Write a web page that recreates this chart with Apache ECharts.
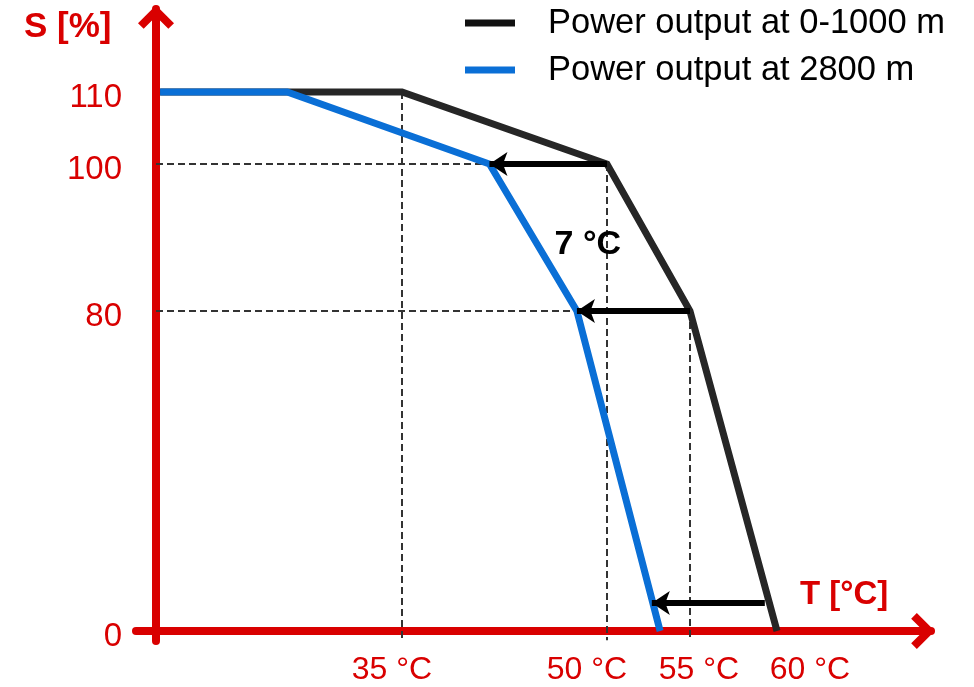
<!DOCTYPE html>
<html>
<head>
<meta charset="utf-8">
<script src="https://cdn.jsdelivr.net/npm/echarts@6.0.0/dist/echarts.min.js"></script>
<style>html,body{margin:0;padding:0;background:#fff}#c{width:974px;height:687px}</style>
</head>
<body>
<div id="c"></div>
<script>
// ---------- data ----------
const seriesNames = ['Power output at 0-1000 m', 'Power output at 2800 m'];
const blackTemp  = [17.3, 35, 50, 55, 60];       // °C
const blackPower = [110, 110, 100, 80, 0];       // %
const blueTemp   = [17.3, 26.6, 41.4, 47.8, 53.2];
const bluePower  = [110, 110, 100, 80, 0];
const tempTicks  = [35, 50, 55, 60];
const powerTicks = [0, 80, 100, 110];
const shiftFromTemp = [50, 55, 59.3];
const shiftToTemp   = [41.4, 47.8, 52.7];
const shiftPower    = [100, 80, 7];
const shiftText     = '7 °C';
const shiftTextAt   = [48.6, 89];
const originTemp    = 17.0;   // where the S axis crosses the T axis
const guideBottom   = -2.3;   // dashed guides reach slightly below S = 0

// ---------- schematic (non-uniform) axis scales ----------
const T_SCALE_KNOTS = [35, 50, 55, 60];
const T_SCALE_UNITS = [246, 451, 534, 621];
const S_SCALE_KNOTS = [0, 80, 100, 110];
const S_SCALE_UNITS = [0, 320, 467, 539];
function piecewise(knots, units, v) {
  let i = 0;
  if (v >= knots[knots.length - 1]) i = knots.length - 2;
  else if (v > knots[0]) { while (v > knots[i + 1]) i++; }
  const f = (v - knots[i]) / (knots[i + 1] - knots[i]);
  return units[i] + f * (units[i + 1] - units[i]);
}
const warpT = t => piecewise(T_SCALE_KNOTS, T_SCALE_UNITS, t);
const warpS = s => piecewise(S_SCALE_KNOTS, S_SCALE_UNITS, s);
const pts = (ts, ss) => ts.map((t, i) => [warpT(t), warpS(ss[i])]);

// ---------- styles ----------
const RED = '#d90000';
const FONT = '"Liberation Sans", Arial, sans-serif';
const BLACK_LINE = '#262626';
const BLUE_LINE = '#0a6fd6';
const chevron = 'path://M18,0L36,18L30.34,23.66L18,11.31L5.66,23.66L0,18Z';
const xLabelNudge = [-10, -20, 9, 33];   // horizontal offsets of the °C labels (style)

const axisLineCommon = {
  show: true, onZero: true,
  lineStyle: { color: RED, width: 8 },
  symbol: ['none', chevron],
  symbolSize: [36, 24],
  symbolOffset: [0, -8]
};

// guides: from the black-line corners
const guideData = [];
for (let i = 1; i < blackTemp.length - 1; i++) {
  guideData.push([{ coord: [warpT(blackTemp[i]), warpS(blackPower[i])] },
                  { coord: [warpT(blackTemp[i]), warpS(guideBottom)] }]);
  if (blackPower[i] < blackPower[0]) {
    guideData.push([{ coord: [warpT(originTemp), warpS(blackPower[i])] },
                    { coord: [warpT(blackTemp[i]), warpS(blackPower[i])] }]);
  }
}
const arrowData = shiftFromTemp.map((t, i) => [
  { coord: [warpT(t), warpS(shiftPower[i])] },
  { coord: [warpT(shiftToTemp[i]), warpS(shiftPower[i])] }
]);

const findTickIndex = (ticks, warp, v) => ticks.findIndex(x => Math.abs(warp(x) - v) < 0.5);

const xRich = {};
tempTicks.forEach((t, i) => {
  const n = xLabelNudge[i];
  xRich['t' + i] = {
    color: RED, fontSize: 32, fontFamily: FONT,
    padding: n < 0 ? [0, -2 * n, 0, 0] : [0, 0, 0, 2 * n]
  };
});

const chart = echarts.init(document.getElementById('c'), null, { renderer: 'canvas' });
chart.setOption({
  animation: false,
  textStyle: { fontFamily: FONT },
  title: [
    { text: 'S [%]', left: 24, top: 10, padding: 0,
      textStyle: { color: RED, fontSize: 35, fontWeight: 'bold', fontFamily: FONT } },
    { text: 'T [°C]', left: 800, top: 578, padding: 0,
      textStyle: { color: RED, fontSize: 33, fontWeight: 'bold', fontFamily: FONT } }
  ],
  legend: {
    data: seriesNames,
    orient: 'vertical',
    left: 465, top: 3, padding: 0,
    icon: 'rect', itemWidth: 50, itemHeight: 7, itemGap: 7,
    itemStyle: { borderWidth: 0 },
    textStyle: { fontSize: 34.5, color: '#000', fontFamily: FONT, lineHeight: 40, padding: [0, 0, 0, 28] }
  },
  grid: { left: 136, right: 43, top: 9, bottom: 46, containLabel: false, outerBoundsMode: 'none' },
  xAxis: {
    type: 'value', min: -20, max: 775,
    axisLine: axisLineCommon,
    axisTick: { show: false },
    splitLine: { show: false },
    axisLabel: {
      customValues: tempTicks.map(warpT),
      formatter: v => {
        const i = findTickIndex(tempTicks, warpT, v);
        return '{t' + i + '|' + tempTicks[i] + ' °C}';
      },
      rich: xRich,
      color: RED, fontSize: 32, margin: 13, fontFamily: FONT
    }
  },
  yAxis: {
    type: 'value', min: -10, max: 622,
    axisLine: axisLineCommon,
    axisTick: { show: false },
    splitLine: { show: false },
    axisLabel: {
      customValues: powerTicks.map(warpS),
      formatter: v => '{s|' + powerTicks[findTickIndex(powerTicks, warpS, v)] + '}',
      rich: { s: { color: RED, fontSize: 33, fontFamily: FONT, padding: [12, 0, 0, 0] } },
      color: RED, fontSize: 33, margin: 14, fontFamily: FONT
    }
  },
  series: [
    {
      name: 'guides', type: 'line', data: [], z: 1, silent: true,
      markLine: {
        silent: true, z: 1, symbol: ['none', 'none'],
        label: { show: false },
        lineStyle: { type: [7, 4], color: '#333', width: 2 },
        emphasis: { disabled: true },
        data: guideData
      }
    },
    {
      name: seriesNames[0], type: 'line', z: 3,
      data: pts(blackTemp, blackPower),
      symbol: 'none', showSymbol: false,
      lineStyle: { color: BLACK_LINE, width: 7, join: 'miter' },
      itemStyle: { color: '#111' }
    },
    {
      name: seriesNames[1], type: 'line', z: 4,
      data: pts(blueTemp, bluePower),
      symbol: 'none', showSymbol: false,
      lineStyle: { color: BLUE_LINE, width: 7, join: 'miter' },
      itemStyle: { color: BLUE_LINE }
    },
    {
      name: 'shift', type: 'line', data: [], z: 6, silent: true,
      markLine: {
        silent: true, z: 6, symbol: ['none', 'arrow'], symbolSize: 18,
        label: { show: false },
        lineStyle: { type: 'solid', color: '#000', width: 6 },
        emphasis: { disabled: true },
        data: arrowData
      },
      markPoint: {
        silent: true,
        symbol: 'circle', symbolSize: 1,
        itemStyle: { color: 'rgba(0,0,0,0)' },
        label: { show: true, position: 'inside', formatter: shiftText,
                 color: '#000', fontSize: 34, fontWeight: 'bold', fontFamily: FONT },
        data: [{ coord: [warpT(shiftTextAt[0]), warpS(shiftTextAt[1])] }]
      }
    }
  ]
});
</script>
</body>
</html>
